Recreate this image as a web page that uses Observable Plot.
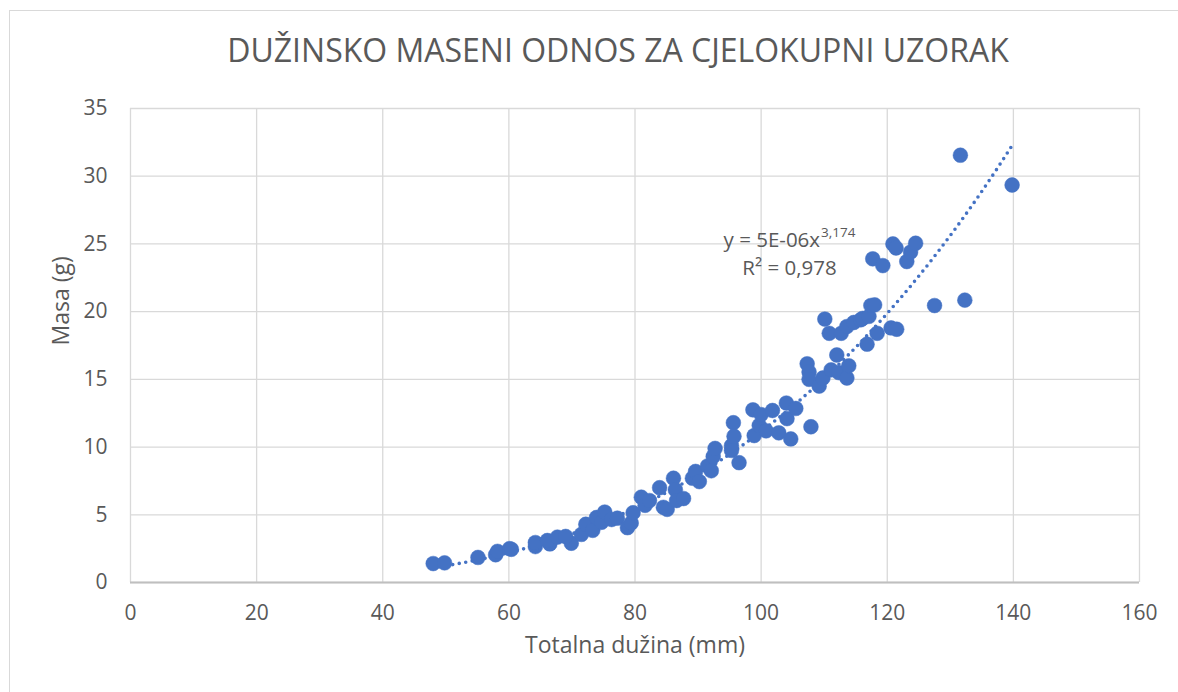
<!DOCTYPE html>
<html>
<head>
<meta charset="utf-8">
<script src="https://cdn.jsdelivr.net/npm/d3@7"></script>
<script src="https://cdn.jsdelivr.net/npm/@observablehq/plot@0.6"></script>
<style>
  html, body { margin: 0; padding: 0; background: #fff; }
  #wrap { position: relative; width: 1178px; height: 692px; overflow: hidden; font-family: "Open Sans", sans-serif; }
  #frame { position: absolute; left: 9px; top: 10px; right: -10px; bottom: -10px; border: 1.3px solid #d9d9d9; }
  #title { position: absolute; top: 34px; left: 618px; transform: translateX(-50%); white-space: nowrap;
           font-size: 32px; line-height: 1; color: #595959; }
  #chart { position: absolute; left: 0; top: 0; }
</style>
</head>
<body>
<div id="wrap">
  <div id="frame"></div>
  <div id="chart"></div>
  <div id="title">DUŽINSKO MASENI ODNOS ZA CJELOKUPNI UZORAK</div>
</div>
<script>
// Totalna dužina (mm)
const lengths = [
  48.0, 49.8, 55.1, 57.9, 58.2, 60.1, 60.4, 64.2, 64.2, 66.5, 66.1, 67.7, 69.9, 69.0, 71.5,
  72.2, 73.3, 73.9, 74.7, 75.2, 76.3, 77.2, 78.8, 79.4, 79.7, 81.0, 81.6, 82.3, 83.9, 84.5,
  85.1, 86.1, 86.4, 86.6, 87.7, 89.1, 89.6, 90.2, 91.5, 92.1, 92.4, 92.7, 95.3, 95.3, 95.6,
  96.5, 95.7, 98.7, 98.9, 99.7, 100.0, 100.8, 101.8, 102.8, 104.0, 104.1, 104.7, 105.5, 107.3,
  107.6, 107.6, 107.9, 109.2, 109.8, 110.1, 110.8, 111.1, 112.0, 112.3, 112.7, 113.6, 113.6, 113.9,
  114.7, 115.8, 116.1, 116.8, 117.1, 117.4, 118.0, 117.7, 118.4, 119.3, 120.6, 120.9, 121.4, 121.5,
  123.1, 123.7, 124.5, 127.5, 131.6, 132.3, 139.8
];
// Masa (g)
const masses = [
  1.4, 1.45, 1.85, 2.05, 2.3, 2.5, 2.45, 2.65, 2.95, 2.85, 3.1, 3.35, 2.9, 3.4, 3.55,
  4.3, 3.85, 4.8, 4.45, 5.2, 4.65, 4.75, 4.05, 4.4, 5.15, 6.3, 5.7, 6.05, 7.0, 5.55,
  5.4, 7.7, 6.85, 6.05, 6.2, 7.7, 8.2, 7.45, 8.6, 8.25, 9.3, 9.9, 10.1, 9.75, 11.8,
  8.85, 10.8, 12.75, 10.85, 11.6, 12.4, 11.2, 12.7, 11.05, 13.25, 12.1, 10.6, 12.85, 16.15,
  15.55, 15.0, 11.5, 14.5, 15.1, 19.45, 18.4, 15.7, 16.8, 15.5, 18.4, 18.9, 15.1, 16.0,
  19.2, 19.4, 19.5, 17.6, 19.65, 20.45, 20.5, 23.9, 18.4, 23.4, 18.8, 25.0, 24.7, 18.7,
  23.7, 24.4, 25.05, 20.45, 31.55, 20.85, 29.35
];
const xTicks = [0, 20, 40, 60, 80, 100, 120, 140, 160];
const yTicks = [0, 5, 10, 15, 20, 25, 30, 35];
// Trendline (Excel power fit) coefficients shown on the chart
const trendA = 5e-6;
const trendB = 3.174;
const eqMain = "y = 5E-06x";
const eqSup = "3,174";
const eqR2 = "R² = 0,978";

const points = lengths.map((l, i) => ({l, m: masses[i]}));
const lo = d3.min(lengths), hi = d3.max(lengths);
const trend = d3.range(lo, hi, 0.25).concat([hi]).map(l => ({l, m: trendA * Math.pow(l, trendB)}));

const textColor = "#595959";
const blue = "#4472C4";
const eqFont = 20.5;
const eqGap = 28;

const chart = Plot.plot({
  width: 1178,
  height: 692,
  marginLeft: 130,
  marginRight: 39,
  marginTop: 108,
  marginBottom: 110,
  style: {fontFamily: "Open Sans, sans-serif", background: "transparent", overflow: "visible"},
  x: {domain: [0, 160]},
  y: {domain: [0, 35]},
  marks: [
    Plot.gridX(xTicks, {stroke: "#d9d9d9", strokeOpacity: 1, strokeWidth: 1.3}),
    Plot.gridY(yTicks, {stroke: "#d9d9d9", strokeOpacity: 1, strokeWidth: 1.3}),
    Plot.ruleY([0], {stroke: "#bfbfbf", strokeWidth: 1.8}),
    Plot.axisX(xTicks, {tickSize: 0, tickPadding: 23, fontSize: 21, fill: textColor, label: null}),
    Plot.axisY(yTicks, {tickSize: 0, tickPadding: 23, fontSize: 21, fill: textColor, label: null}),
    Plot.line(trend, {x: "l", y: "m", stroke: blue, strokeWidth: 3.6, strokeDasharray: "0,6.6", strokeLinecap: "round"}),
    Plot.dot(points, {x: "l", y: "m", r: 7.4, fill: blue, stroke: blue, strokeWidth: 0.5}),
    Plot.text([eqMain + "\n" + eqR2], {x: 104.5, y: 22.74, text: d => d, textAnchor: "middle", lineAnchor: "bottom",
      lineHeight: eqGap / eqFont, fontSize: eqFont, fill: textColor, className: "eq"}),
    Plot.text(["Masa (g)"], {frameAnchor: "left", dx: -69, rotate: -90, text: d => d, fontSize: 23, fill: textColor}),
    Plot.text(["Totalna dužina (mm)"], {frameAnchor: "bottom", dy: 70, text: d => d, fontSize: 23, fill: textColor})
  ]
});
// superscript exponent nested in the first equation line; second line's offset compensates the raise
const eqLines = d3.select(chart).selectAll(".eq text tspan").nodes();
if (eqLines.length === 2) {
  const raise = 10;
  d3.select(eqLines[0]).append("tspan")
    .attr("font-size", 13.5)
    .attr("dy", -raise)
    .attr("dx", "1")
    .text(eqSup);
  d3.select(eqLines[1]).attr("dy", eqGap + raise);
}
document.getElementById("chart").appendChild(chart);
</script>
</body>
</html>
